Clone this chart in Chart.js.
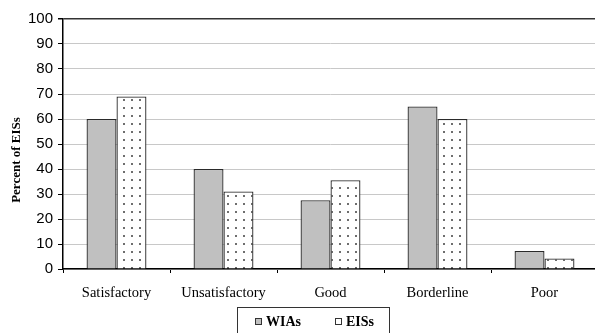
<!DOCTYPE html>
<html>
<head>
<meta charset="utf-8">
<script src="https://cdn.jsdelivr.net/npm/chart.js@4/dist/chart.umd.min.js"></script>
<style>
  html, body { margin: 0; padding: 0; background: #fff; overflow: hidden; }
  #wrap { width: 603px; height: 333px; }
</style>
</head>
<body>
<div id="wrap"><canvas id="c" width="603" height="333"></canvas></div>
<script>
// Ratings of assessment quality
const categories = ['Satisfactory', 'Unsatisfactory', 'Good', 'Borderline', 'Poor'];
const wiaValues = [60, 40, 27.5, 65, 7.2];
const eisValues = [69, 31, 35.5, 60, 4.2];
const seriesNames = ['WIAs', 'EISs'];
const yTicks = [0, 10, 20, 30, 40, 50, 60, 70, 80, 90, 100];
const yTitle = 'Percent of EISs';

// Dotted fill: white tile with a small gray dot
function dotPattern() {
  const t = document.createElement('canvas');
  t.width = 8; t.height = 8;
  const g = t.getContext('2d');
  g.fillStyle = '#ffffff';
  g.fillRect(0, 0, 8, 8);
  g.fillStyle = '#6e6e6e';
  g.fillRect(3, 3, 2, 2);
  return g.createPattern(t, 'repeat');
}

// Rotated axis title and boxed legend drawn on the canvas
const decorations = {
  id: 'decorations',
  afterDraw(chart) {
    const ctx = chart.ctx;
    ctx.save();
    // y-axis title
    ctx.translate(17, 160);
    ctx.rotate(-Math.PI / 2);
    ctx.font = 'bold 13px "Liberation Serif", "Times New Roman", serif';
    ctx.fillStyle = '#000';
    ctx.textAlign = 'center';
    ctx.textBaseline = 'middle';
    ctx.fillText(yTitle, 0, 0);
    ctx.restore();

    // legend box
    ctx.save();
    ctx.strokeStyle = '#333';
    ctx.lineWidth = 1;
    ctx.strokeRect(237.5, 307.5, 152, 40);
    const ds = chart.data.datasets;
    const items = [{ x: 255 }, { x: 335 }];
    ctx.font = 'bold 14px "Liberation Serif", "Times New Roman", serif';
    ctx.textBaseline = 'middle';
    ctx.textAlign = 'left';
    items.forEach((it, i) => {
      ctx.fillStyle = i === 0 ? ds[0].backgroundColor : '#fff';
      ctx.fillRect(it.x, 318, 7, 7);
      ctx.strokeStyle = '#333';
      ctx.strokeRect(it.x + 0.5, 318.5, 6, 6);
      ctx.fillStyle = '#000';
      ctx.fillText(seriesNames[i], it.x + 11, 322);
    });
    ctx.restore();
  }
};

new Chart(document.getElementById('c'), {
  type: 'bar',
  data: {
    labels: categories,
    datasets: [
      {
        label: seriesNames[0],
        data: wiaValues,
        backgroundColor: '#c0c0c0',
        borderColor: '#2a2a2a',
        borderWidth: 1.3,
        categoryPercentage: 0.56,
        barPercentage: 1.0
      },
      {
        label: seriesNames[1],
        data: eisValues,
        backgroundColor: dotPattern(),
        borderColor: '#2a2a2a',
        borderWidth: 1.3,
        categoryPercentage: 0.56,
        barPercentage: 1.0
      }
    ]
  },
  options: {
    responsive: false,
    devicePixelRatio: 1,
    animation: false,
    layout: { padding: { left: 0, top: 19, right: 5, bottom: 0 } },
    plugins: {
      legend: { display: false },
      tooltip: { enabled: false }
    },
    scales: {
      x: {
        offset: true,
        grid: {
          offset: true,
          drawOnChartArea: false,
          drawTicks: true,
          tickLength: 4,
          tickColor: '#000'
        },
        border: { color: '#000', width: 1.5 },
        ticks: {
          color: '#000',
          padding: 11,
          font: { family: '"Liberation Serif", "Times New Roman", serif', size: 14.5 },
          maxRotation: 0
        },
        afterFit(scale) { scale.height = 64; }
      },
      y: {
        min: 0,
        max: 100,
        afterBuildTicks(scale) { scale.ticks = yTicks.map(v => ({ value: v })); },
        grid: {
          color: ctx => (ctx.tick && ctx.tick.value === 100) ? '#333' : '#c8c8c8',
          lineWidth: ctx => (ctx.tick && ctx.tick.value === 100) ? 1.5 : 1,
          tickLength: 5,
          tickColor: '#000'
        },
        border: { color: '#000', width: 1.5 },
        ticks: {
          color: '#000',
          padding: 5,
          font: { family: '"Liberation Sans", Arial, sans-serif', size: 15 }
        },
        afterFit(scale) { scale.width = 63; }
      }
    }
  },
  plugins: [decorations]
});
</script>
</body>
</html>
